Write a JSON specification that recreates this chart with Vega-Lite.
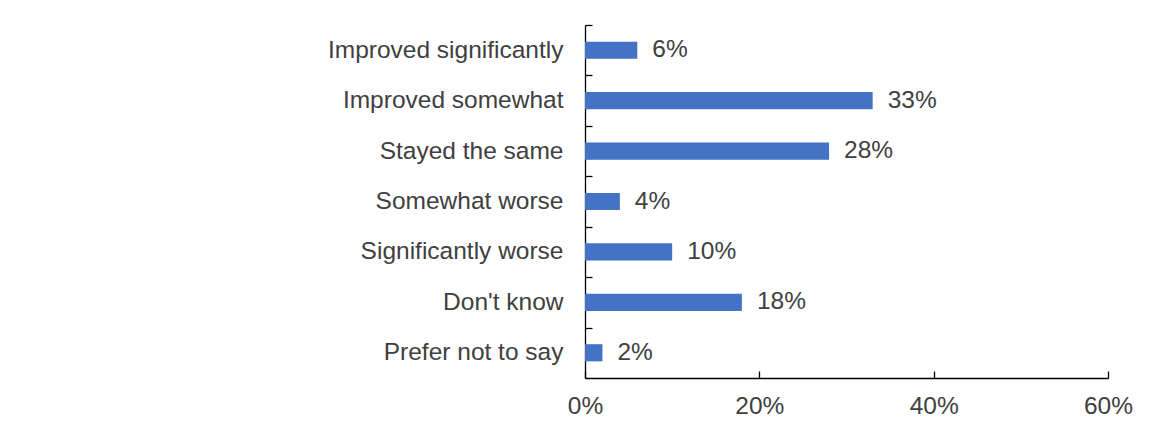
{
  "$schema": "https://vega.github.io/schema/vega-lite/v6.json",
  "width": 523,
  "height": 353,
  "autosize": "none",
  "padding": {"left": 585, "top": 25, "right": 62, "bottom": 59},
  "background": "white",
  "config": {"view": {"stroke": null}, "font": "Liberation Sans"},
  "data": {"values": [
    {"category": "Improved significantly", "value": 0.06},
    {"category": "Improved somewhat", "value": 0.33},
    {"category": "Stayed the same", "value": 0.28},
    {"category": "Somewhat worse", "value": 0.04},
    {"category": "Significantly worse", "value": 0.10},
    {"category": "Don't know", "value": 0.18},
    {"category": "Prefer not to say", "value": 0.02}
  ]},
  "encoding": {
    "y": {"field": "category", "type": "nominal", "sort": null, "title": null,
      "scale": {"paddingInner": 0.66, "paddingOuter": 0.33},
      "axis": {"domainColor": "black", "domainWidth": 1.3, "tickColor": "black", "tickSize": -7, "tickOffset": -25.2, "tickWidth": 1.3,
        "labelOffset": 25.2,
        "labelFontSize": 24.5, "labelColor": "#404040", "labelPadding": 29, "labelLimit": 400, "labelFont": "Liberation Sans"}},
    "x": {"field": "value", "type": "quantitative", "title": null,
      "scale": {"domain": [0, 0.6]},
      "axis": {"values": [0, 0.2, 0.4, 0.6], "format": ".0%", "grid": false,
        "domainColor": "black", "domainWidth": 1.3, "tickColor": "black", "tickSize": -7, "tickWidth": 1.3,
        "labelFontSize": 24.5, "labelColor": "#404040", "labelPadding": 23, "labelFont": "Liberation Sans", "labelFlush": false}}
  },
  "layer": [
    {"mark": {"type": "bar", "color": "#4472C4"}},
    {"mark": {"type": "text", "align": "left", "dx": 15, "fontSize": 24.5, "color": "#404040", "font": "Liberation Sans"},
     "encoding": {"text": {"field": "value", "type": "quantitative", "format": ".0%"}}}
  ]
}
